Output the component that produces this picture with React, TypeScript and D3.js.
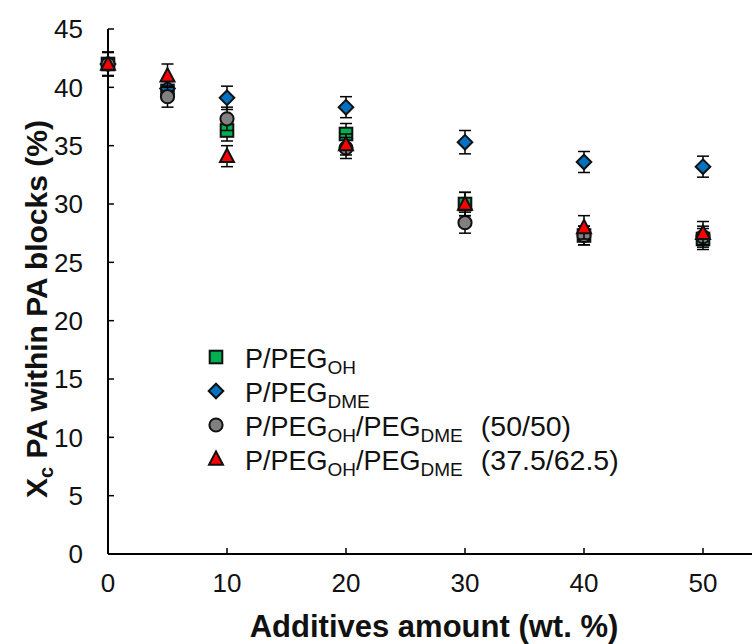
import React from "react";
import * as d3 from "d3";

const xValues = [0, 5, 10, 20, 30, 40, 50];
const seriesNames = ["OH", "DME", "50/50", "37.5/62.5"];
const ohValues = [42.0, 39.7, 36.3, 36.0, 30.0, 27.3, 27.0];
const ohErrors = [1.0, 0.8, 0.9, 0.9, 1.0, 0.8, 0.9];
const dmeValues = [42.0, 39.9, 39.1, 38.3, 35.3, 33.6, 33.2];
const dmeErrors = [1.0, 0.8, 1.0, 0.9, 1.0, 0.9, 0.9];
const mix5050Values = [42.0, 39.2, 37.3, 34.8, 28.4, 27.3, 27.2];
const mix5050Errors = [1.0, 0.9, 1.0, 0.9, 0.9, 0.8, 0.9];
const mix375Values = [42.0, 41.0, 34.1, 35.1, 30.0, 28.0, 27.5];
const mix375Errors = [1.0, 1.0, 0.9, 0.9, 1.0, 1.0, 1.0];
const xTicks = [0, 10, 20, 30, 40, 50];
const yTicks = [0, 5, 10, 15, 20, 25, 30, 35, 40, 45];

const FONT = "'Liberation Sans', Arial, sans-serif";

type Shape = "square" | "diamond" | "circle" | "triangle";
const series: { name: string; values: number[]; errors: number[]; shape: Shape; color: string }[] = [
  { name: seriesNames[0], values: ohValues, errors: ohErrors, shape: "square", color: "#00B050" },
  { name: seriesNames[1], values: dmeValues, errors: dmeErrors, shape: "diamond", color: "#0070C0" },
  { name: seriesNames[2], values: mix5050Values, errors: mix5050Errors, shape: "circle", color: "#808080" },
  { name: seriesNames[3], values: mix375Values, errors: mix375Errors, shape: "triangle", color: "#FF0000" },
];

function Marker({ shape, x, y, color }: { shape: Shape; x: number; y: number; color: string }) {
  const common = { fill: color, stroke: "#111", strokeWidth: 2 };
  if (shape === "square") return <rect x={x - 6.3} y={y - 6.3} width={12.6} height={12.6} {...common} />;
  if (shape === "circle") return <circle cx={x} cy={y} r={6.6} {...common} />;
  if (shape === "diamond")
    return <path d={`M${x},${y - 7.3}L${x + 7.3},${y}L${x},${y + 7.3}L${x - 7.3},${y}Z`} {...common} />;
  return <path d={`M${x},${y - 7.5}L${x + 7},${y + 5.8}L${x - 7},${y + 5.8}Z`} {...common} />;
}

export default function App() {
  const x = d3.scaleLinear().domain([0, 55]).range([108, 108 + 5.5 * 119]);
  const y = d3.scaleLinear().domain([0, 45]).range([554, 29]);
  const legendRows = [357, 391, 425, 459];
  const mainFs = 27;
  const sub = { fontSize: 19, dy: 6 };

  return (
    <svg
      width={752}
      height={644}
      style={{ position: "absolute", left: 0, top: 0, background: "#fff" }}
      fontFamily={FONT}
    >
      {/* axes */}
      <line x1={x(0)} x2={x(0)} y1={y(45)} y2={y(0)} stroke="#000" strokeWidth={2} />
      <line x1={x(0)} x2={760} y1={y(0)} y2={y(0)} stroke="#000" strokeWidth={2} />
      {yTicks.map((t) => (
        <g key={"y" + t}>
          <line x1={x(0)} x2={x(0) + 6} y1={y(t)} y2={y(t)} stroke="#000" strokeWidth={1.5} />
          <text x={83} y={y(t)} dy="0.36em" textAnchor="end" fontSize={26} fill="#111">
            {t}
          </text>
        </g>
      ))}
      {xTicks.map((t) => (
        <g key={"x" + t}>
          <line x1={x(t)} x2={x(t)} y1={y(0)} y2={y(0) - 6} stroke="#000" strokeWidth={1.5} />
          <text x={x(t)} y={592} textAnchor="middle" fontSize={26} fill="#111">
            {t}
          </text>
        </g>
      ))}
      <text x={434} y={637} textAnchor="middle" fontSize={31} fontWeight="bold" fill="#111">
        Additives amount (wt. %)
      </text>
      <text
        transform={`translate(47, ${309}) rotate(-90)`}
        textAnchor="middle"
        fontSize={30}
        fontWeight="bold"
        fill="#111"
      >
        X<tspan fontSize={20} dy={6}>c</tspan>
        <tspan dy={-6}> PA within PA blocks (%)</tspan>
      </text>

      {/* data */}
      {series.map((s) => (
        <g key={s.name}>
          {s.values.map((v, i) => (
            <g key={i} stroke="#000" strokeWidth={1.5}>
              <line x1={x(xValues[i])} x2={x(xValues[i])} y1={y(v - s.errors[i])} y2={y(v + s.errors[i])} />
              <line x1={x(xValues[i]) - 6} x2={x(xValues[i]) + 6} y1={y(v - s.errors[i])} y2={y(v - s.errors[i])} />
              <line x1={x(xValues[i]) - 6} x2={x(xValues[i]) + 6} y1={y(v + s.errors[i])} y2={y(v + s.errors[i])} />
            </g>
          ))}
          {s.values.map((v, i) => (
            <Marker key={"m" + i} shape={s.shape} x={x(xValues[i])} y={y(v)} color={s.color} />
          ))}
        </g>
      ))}

      {/* legend */}
      {series.map((s, i) => (
        <g key={"leg" + i}>
          <Marker shape={s.shape} x={216} y={legendRows[i]} color={s.color} />
        </g>
      ))}
      <text x={245} y={legendRows[0] + 11} fontSize={mainFs} fill="#111">
        P/PEG<tspan fontSize={sub.fontSize} dy={sub.dy}>OH</tspan>
      </text>
      <text x={245} y={legendRows[1] + 11} fontSize={mainFs} fill="#111">
        P/PEG<tspan fontSize={sub.fontSize} dy={sub.dy}>DME</tspan>
      </text>
      <text x={245} y={legendRows[2] + 11} fontSize={mainFs} fill="#111">
        P/PEG<tspan fontSize={sub.fontSize} dy={sub.dy}>OH</tspan>
        <tspan dy={-sub.dy}>/PEG</tspan>
        <tspan fontSize={sub.fontSize} dy={sub.dy}>DME</tspan>
        <tspan dy={-sub.dy} dx={18} fontSize={28.5}>(50/50)</tspan>
      </text>
      <text x={245} y={legendRows[3] + 11} fontSize={mainFs} fill="#111">
        P/PEG<tspan fontSize={sub.fontSize} dy={sub.dy}>OH</tspan>
        <tspan dy={-sub.dy}>/PEG</tspan>
        <tspan fontSize={sub.fontSize} dy={sub.dy}>DME</tspan>
        <tspan dy={-sub.dy} dx={18} fontSize={28.5}>(37.5/62.5)</tspan>
      </text>
    </svg>
  );
}
